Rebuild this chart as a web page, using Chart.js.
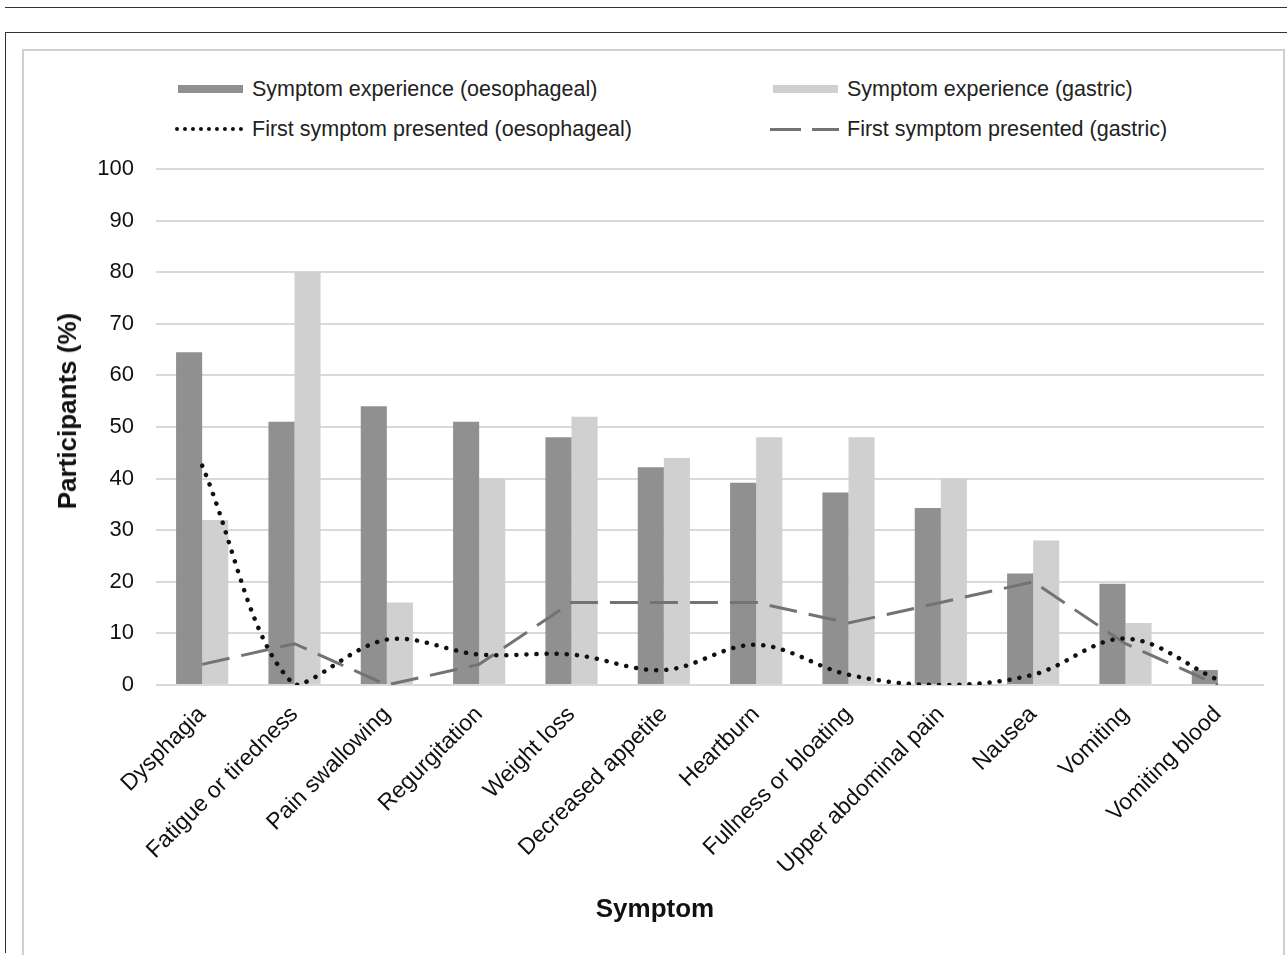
<!DOCTYPE html>
<html>
<head>
<meta charset="utf-8">
<script src="https://cdn.jsdelivr.net/npm/chart.js@4"></script>
<style>
  body { margin: 0; background: #fff; font-family: "Liberation Sans", Arial, sans-serif; }
  .abs { position: absolute; }
  #topline { left: 5px; top: 7px; width: 1282px; border-top: 1.5px solid #333; }
  #outer { left: 5px; top: 32px; width: 1290px; height: 920px; border-left: 1.5px solid #333; border-top: 1.5px solid #333; }
  #inner { left: 22px; top: 49px; width: 1259px; height: 904px; border-left: 2px solid #cfcfcf; border-top: 2px solid #cfcfcf; border-right: 2px solid #cfcfcf; }
  #wrap { left: 24px; top: 51px; width: 1258px; height: 902px; }
  .lg { font-size: 21.5px; color: #222; white-space: nowrap; line-height: 24px; }
  .sw { position: absolute; }
  .ttl { position: absolute; font-weight: bold; font-size: 26px; color: #111; white-space: nowrap; line-height: 30px; transform: translate(-50%, -50%); }
</style>
</head>
<body>
<div id="topline" class="abs"></div>
<div id="outer" class="abs"></div>
<div id="inner" class="abs"></div>

<div class="sw" style="left:178px;top:85px;width:65px;height:8px;background:#909090"></div>
<div class="abs lg" style="left:252px;top:77px">Symptom experience (oesophageal)</div>
<div class="sw" style="left:773px;top:85px;width:65px;height:8px;background:#d0d0d0"></div>
<div class="abs lg" style="left:847px;top:77px">Symptom experience (gastric)</div>
<div class="sw" style="left:175px;top:127px;width:68px;border-top:4px dotted #111"></div>
<div class="abs lg" style="left:252px;top:117px">First symptom presented (oesophageal)</div>
<div class="sw" style="left:770px;top:128px;width:31px;height:3px;background:#737373"></div>
<div class="sw" style="left:812px;top:128px;width:27px;height:3px;background:#737373"></div>
<div class="abs lg" style="left:847px;top:117px">First symptom presented (gastric)</div>

<div id="wrap" class="abs"><canvas id="chart"></canvas></div>

<div class="ttl" style="left:67px;top:411px;transform:translate(-50%,-50%) rotate(-90deg)">Participants (%)</div>
<div class="ttl" style="left:655px;top:908px">Symptom</div>

<script>
const symptoms = ['Dysphagia', 'Fatigue or tiredness', 'Pain swallowing', 'Regurgitation', 'Weight loss',
  'Decreased appetite', 'Heartburn', 'Fullness or bloating', 'Upper abdominal pain', 'Nausea', 'Vomiting', 'Vomiting blood'];
const experienceOesophageal = [64.5, 51, 54, 51, 48, 42.2, 39.2, 37.3, 34.3, 21.6, 19.6, 2.9];
const experienceGastric = [32, 80, 16, 40, 52, 44, 48, 48, 40, 28, 12, 0];
const firstOesophageal = [42.5, 0, 8.8, 5.9, 5.9, 2.9, 7.8, 2, 0, 2, 9, 1];
const firstGastric = [4, 8, 0, 4, 16, 16, 16, 12, 16, 20, 8, 0];
const yTicks = [0, 10, 20, 30, 40, 50, 60, 70, 80, 90, 100];

const FONT = '"Liberation Sans", Arial, sans-serif';

new Chart(document.getElementById('chart'), {
  type: 'bar',
  data: {
    labels: symptoms,
    datasets: [
      {
        type: 'line', label: 'First symptom presented (oesophageal)', data: firstOesophageal,
        borderColor: '#111', borderWidth: 4.5, borderDash: [0.1, 10], borderCapStyle: 'round',
        tension: 0.35, pointRadius: 0, fill: false, order: 0
      },
      {
        type: 'line', label: 'First symptom presented (gastric)', data: firstGastric,
        borderColor: '#737373', borderWidth: 3, borderDash: [28, 12], tension: 0,
        pointRadius: 0, fill: false, order: 0
      },
      {
        label: 'Symptom experience (oesophageal)', data: experienceOesophageal,
        backgroundColor: '#909090', categoryPercentage: 0.565, barPercentage: 1, order: 1
      },
      {
        label: 'Symptom experience (gastric)', data: experienceGastric,
        backgroundColor: '#d0d0d0', categoryPercentage: 0.565, barPercentage: 1, order: 1
      }
    ]
  },
  options: {
    responsive: true,
    maintainAspectRatio: false,
    animation: false,
    layout: { padding: { top: 118, right: 18, bottom: 30, left: 30 } },
    plugins: { legend: { display: false }, tooltip: { enabled: false } },
    scales: {
      x: {
        grid: { display: false },
        border: { display: false },
        ticks: { color: '#111', font: { family: FONT, size: 23 }, minRotation: 45, maxRotation: 45, padding: 8, autoSkip: false },
        afterFit: s => { s.height = 238; }
      },
      y: {
        min: 0, max: 100,
        afterBuildTicks: s => { s.ticks = yTicks.map(v => ({ value: v })); },
        grid: { color: '#d9d9d9', lineWidth: 2, drawTicks: false },
        border: { display: false },
        ticks: { color: '#111', font: { family: FONT, size: 22 }, padding: 22 },
        afterFit: s => { s.width = 102; }
      }
    }
  }
});
</script>
</body>
</html>
